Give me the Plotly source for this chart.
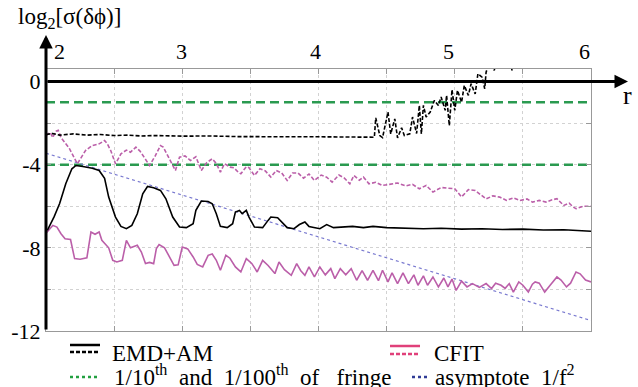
import plotly.graph_objects as go

# ---------------- data ----------------
emd_solid_x = [2.01, 2.06, 2.10, 2.145, 2.19, 2.22, 2.27, 2.34, 2.39, 2.43, 2.46, 2.51, 2.55, 2.59, 2.63, 2.67,
               2.71, 2.745, 2.79, 2.84, 2.88, 2.93, 2.98, 3.03, 3.08, 3.10, 3.14, 3.19, 3.22, 3.25, 3.28, 3.33,
               3.37, 3.39, 3.42, 3.44, 3.47, 3.49, 3.53, 3.59, 3.63, 3.65, 3.70, 3.74, 3.77, 3.82, 3.86, 3.90,
               3.93, 4.01, 4.06, 4.11, 4.18, 4.25, 4.33, 4.40, 4.50, 4.62, 4.77, 4.90, 5.05, 5.20, 5.35, 5.50,
               5.65, 5.80, 5.90, 6.00]
emd_solid_y = [-7.16, -6.5, -5.87, -4.92, -4.2, -4.04, -4.09, -4.17, -4.28, -4.66, -5.56, -6.52, -6.97, -7.08, -6.92, -6.36,
               -5.4, -5.05, -5.11, -5.24, -5.64, -6.52, -7.0, -7.03, -6.84, -6.2, -5.75, -5.77, -5.88, -6.36, -6.97, -7.03,
               -6.84, -6.28, -6.2, -6.36, -6.2, -6.52, -7.0, -7.03, -6.68, -6.52, -6.55, -6.84, -7.03, -7.08, -6.88, -6.76,
               -6.97, -7.08, -6.88, -7.03, -7.0, -6.97, -7.03, -6.97, -7.03, -7.05, -7.08, -7.06, -7.1, -7.08, -7.12, -7.1,
               -7.14, -7.13, -7.18, -7.2]

emd_dash_x = [2.0, 2.05, 2.1, 2.2, 2.3, 2.4, 2.5, 2.6, 2.7, 2.8, 3.0, 3.2, 3.4, 3.6, 3.8, 4.0, 4.2, 4.41,
              4.42, 4.45, 4.47, 4.51, 4.53, 4.56, 4.58, 4.61, 4.63, 4.67, 4.69, 4.72, 4.74, 4.755, 4.77, 4.79,
              4.82, 4.85, 4.88, 4.90, 4.93, 4.94, 4.96, 4.98, 5.0, 5.02, 5.05, 5.07, 5.10, 5.12, 5.15, 5.17,
              5.20, 5.22, 5.23, 5.26, 5.29, 5.31, 5.35, 5.40, 5.42, 5.45, 5.50, 5.60, 5.70, 5.80, 6.0]
emd_dash_y = [-2.55, -2.5, -2.58, -2.52, -2.58, -2.55, -2.6, -2.58, -2.62, -2.6, -2.63, -2.62, -2.65, -2.64, -2.66, -2.66, -2.68, -2.68,
              -1.75, -2.6, -2.7, -1.47, -2.52, -1.8, -2.71, -2.23, -2.6, -2.52, -1.71, -2.5, -1.15, -2.52, -1.15, -1.71,
              -1.47, -0.91, -1.15, -0.75, -1.39, -0.67, -2.12, -0.4, -1.39, -0.43, -1.0, -0.19, -0.67, -0.11, -0.6, 0.37,
              0.21, -0.35, 0.45, 1.0, 0.53, 1.2, 0.9, 1.5, 0.53, 1.4, 1.7, 1.9, 2.1, 2.3, 2.6]

cfit_dash_x = [2.0, 2.03, 2.05, 2.07, 2.09, 2.11, 2.17, 2.23, 2.29, 2.34, 2.39, 2.43, 2.45, 2.475, 2.51, 2.55,
               2.59, 2.62, 2.66, 2.69, 2.72, 2.76, 2.80, 2.84, 2.86, 2.90, 2.95, 2.98, 3.02, 3.06, 3.10, 3.14,
               3.18, 3.22, 3.25, 3.28, 3.31, 3.35, 3.38, 3.41, 3.43, 3.47, 3.49, 3.53, 3.57, 3.61, 3.65, 3.69,
               3.73, 3.77, 3.81, 3.85, 3.89, 3.93, 3.97, 4.02, 4.06, 4.10, 4.15, 4.19, 4.23, 4.26, 4.30, 4.33,
               4.37, 4.42, 4.47, 4.52, 4.58, 4.64, 4.69, 4.74, 4.79, 4.84, 4.90, 5.0, 5.05, 5.10, 5.15, 5.23,
               5.28, 5.33, 5.38, 5.43, 5.48, 5.53, 5.57, 5.62, 5.67, 5.71, 5.75, 5.80, 5.84, 5.87, 5.89, 5.94, 6.0]
cfit_dash_y = [-2.6, -2.45, -2.7, -2.4, -2.35, -2.7, -3.2, -3.96, -3.32, -3.08, -3.0, -2.84, -3.0, -3.32, -3.96, -3.48,
               -3.3, -3.4, -3.16, -3.35, -3.64, -4.04, -3.6, -3.08, -3.15, -3.64, -4.28, -3.64, -3.58, -3.8, -3.62, -4.28,
               -3.9, -3.72, -3.95, -4.36, -3.95, -4.12, -4.15, -4.36, -4.44, -4.1, -4.15, -4.52, -4.2, -4.3, -4.6, -4.28,
               -4.4, -4.76, -4.4, -4.4, -4.65, -4.45, -4.76, -4.5, -4.6, -4.84, -4.5, -4.65, -4.92, -4.52, -4.75, -4.6,
               -4.92, -4.85, -5.0, -4.95, -4.88, -5.02, -4.95, -5.16, -5.0, -5.32, -5.1, -5.16, -5.55, -5.2, -5.24, -5.65,
               -5.5, -5.56, -5.72, -5.6, -5.72, -5.65, -5.8, -5.72, -5.8, -5.7, -5.64, -5.96, -5.85, -6.04, -6.12, -6.0, -6.0]

cfit_solid_x = [2.0, 2.05, 2.08, 2.11, 2.14, 2.18, 2.21, 2.25, 2.30, 2.33, 2.36, 2.39, 2.41, 2.44, 2.46, 2.49,
                2.52, 2.56, 2.59, 2.62, 2.67, 2.70, 2.73, 2.76, 2.79, 2.81, 2.83, 2.87, 2.90, 2.94, 2.97, 3.0,
                3.04, 3.08, 3.11, 3.15, 3.19, 3.22, 3.25, 3.28, 3.32, 3.35, 3.39, 3.43, 3.47, 3.51, 3.55, 3.59,
                3.63, 3.68, 3.71, 3.75, 3.80, 3.84, 3.87, 3.90, 3.93, 3.97, 4.01, 4.05, 4.09, 4.12, 4.16, 4.20,
                4.24, 4.28, 4.32, 4.36, 4.40, 4.44, 4.47, 4.51, 4.54, 4.58, 4.62, 4.66, 4.70, 4.73, 4.77, 4.80,
                4.84, 4.88, 4.92, 4.95, 4.98, 5.01, 5.05, 5.09, 5.13, 5.18, 5.23, 5.27, 5.30, 5.34, 5.37, 5.40,
                5.43, 5.47, 5.50, 5.54, 5.57, 5.59, 5.62, 5.66, 5.70, 5.75, 5.78, 5.82, 5.85, 5.89, 5.92, 5.96, 6.0]
cfit_solid_y = [-7.3, -6.92, -7.0, -7.32, -7.56, -7.6, -8.52, -8.55, -8.48, -7.24, -7.35, -7.24, -7.64, -7.85, -8.0, -8.6,
                -8.68, -8.6, -7.64, -8.0, -7.88, -8.2, -8.76, -8.7, -8.76, -8.04, -7.84, -8.0, -8.36, -8.84, -8.82, -7.96,
                -8.05, -8.44, -8.8, -8.92, -8.36, -8.3, -8.6, -9.08, -8.36, -8.5, -8.92, -9.16, -8.52, -8.75, -9.16, -8.6,
                -8.85, -9.24, -8.68, -9.05, -9.32, -8.76, -9.1, -9.32, -8.92, -9.4, -8.92, -9.3, -9.0, -9.48, -9.0, -9.3,
                -9.0, -9.56, -9.1, -9.56, -9.08, -9.58, -9.08, -9.64, -9.2, -9.72, -9.2, -9.72, -9.3, -9.8, -9.35, -9.8,
                -9.4, -9.88, -9.45, -9.88, -9.5, -10.05, -9.6, -9.88, -9.72, -9.9, -9.72, -9.96, -9.7, -9.8, -9.95, -9.72,
                -10.13, -9.64, -9.8, -10.13, -9.75, -9.64, -9.7, -10.13, -9.8, -9.4, -9.55, -9.88, -9.7, -9.16, -9.25, -9.55, -9.64]

asym_x = [2.0, 6.0]
asym_y = [-3.45, -11.5]

fringe_levels = [-1.0, -4.0]

x_ticks = [2, 3, 4, 5, 6]
y_tick_vals = [-12, -10, -8, -6, -4, -2, 0]
y_tick_text = ["-12", "", "-8", "", "-4", "", "0"]

# ---------------- styling ----------------
FONT = "Liberation Serif"
PINK = "#bb5fa9"
GREEN = "#2a9a50"
BLUE = "#7a7ad0"
GRID = "#d2d2d2"

fig = go.Figure()

for lvl in fringe_levels:
    fig.add_trace(go.Scatter(x=[2, 6], y=[lvl, lvl], mode="lines",
                             line=dict(color=GREEN, width=2.5, dash="9px,5px"),
                             showlegend=False, hoverinfo="skip"))

fig.add_trace(go.Scatter(x=asym_x, y=asym_y, mode="lines",
                         line=dict(color=BLUE, width=1.2, dash="dot"), showlegend=False))
fig.add_trace(go.Scatter(x=cfit_dash_x, y=cfit_dash_y, mode="lines",
                         line=dict(color=PINK, width=1.6, dash="4px,2px"), showlegend=False))
fig.add_trace(go.Scatter(x=cfit_solid_x, y=cfit_solid_y, mode="lines",
                         line=dict(color=PINK, width=1.6), showlegend=False))
fig.add_trace(go.Scatter(x=emd_dash_x, y=emd_dash_y, mode="lines",
                         line=dict(color="black", width=1.6, dash="4px,2px"), showlegend=False))
fig.add_trace(go.Scatter(x=emd_solid_x, y=emd_solid_y, mode="lines",
                         line=dict(color="black", width=1.6), showlegend=False))

fig.update_layout(
    width=638, height=387,
    margin=dict(l=46, r=47, t=69, b=56),
    paper_bgcolor="white", plot_bgcolor="white",
    font=dict(family=FONT, size=22, color="black"),
    showlegend=False,
    xaxis=dict(range=[2, 6], tickvals=[2, 2.5, 3, 3.5, 4, 4.5, 5, 5.5, 6],
               showticklabels=False, showgrid=True, gridcolor=GRID, griddash="dot", gridwidth=1,
               zeroline=False, showline=True, linecolor="#999999", linewidth=1, mirror="ticks",
               ticks="inside", ticklen=5, tickcolor="#999999"),
    yaxis=dict(range=[-12, 0.6], tickvals=y_tick_vals, ticktext=y_tick_text,
               showgrid=True, gridcolor=GRID, griddash="dot", gridwidth=1,
               zeroline=False, showline=True, linecolor="#999999", linewidth=1, mirror="ticks",
               ticks="inside", ticklen=5, tickcolor="#999999",
               tickfont=dict(family=FONT, size=22)),
)


def px(xp):
    return (xp - 46) / 545.0


def py(yp):
    return (331 - yp) / 262.0


ann = []
# x tick labels on top
for t, shift in zip(x_ticks, [13, -1, -3, -6, -7]):
    ann.append(dict(x=t, y=py(52), xref="x", yref="paper", yanchor="middle", text=str(t),
                    showarrow=False, xshift=shift, font=dict(family=FONT, size=22)))

# axis arrows
ann.append(dict(x=px(628), y=0, xref="paper", yref="y", ax=-(628 - 46), ay=0,
                axref="pixel", ayref="pixel", showarrow=True, arrowhead=2, arrowsize=0.9,
                arrowwidth=3, arrowcolor="black", text=""))
ann.append(dict(x=0, y=py(35), xref="paper", yref="paper", ax=0, ay=296,
                showarrow=True, arrowhead=2, arrowsize=0.9, arrowwidth=3, arrowcolor="black", text=""))
# axis titles
ann.append(dict(x=px(16), y=py(18), xref="paper", yref="paper",
                xanchor="left", yanchor="middle", showarrow=False,
                text="log<sub>2</sub>[σ(δϕ)]", font=dict(family=FONT, size=23)))
ann.append(dict(x=px(627), y=py(95), xref="paper", yref="paper",
                xanchor="center", yanchor="middle", showarrow=False, text="r",
                font=dict(family=FONT, size=26)))

# legend text
LEG = 23
ann.append(dict(x=px(110), y=py(353), xref="paper", yref="paper", xanchor="left", yanchor="middle",
                showarrow=False, text="EMD+AM", font=dict(family=FONT, size=LEG)))
ann.append(dict(x=px(432), y=py(353), xref="paper", yref="paper", xanchor="left", yanchor="middle",
                showarrow=False, text="CFIT", font=dict(family=FONT, size=LEG)))
ann.append(dict(x=px(112), y=py(375), xref="paper", yref="paper", xanchor="left", yanchor="middle",
                showarrow=False,
                text="1/10<sup>th</sup>&nbsp; and&nbsp; 1/100<sup>th</sup>&nbsp; of&nbsp;&nbsp; fringe",
                font=dict(family=FONT, size=LEG)))
ann.append(dict(x=px(433), y=py(375), xref="paper", yref="paper", xanchor="left", yanchor="middle",
                showarrow=False, text="asymptote&nbsp; 1/f<sup>2</sup>", font=dict(family=FONT, size=LEG)))
fig.update_layout(annotations=ann)

# legend sample lines
shapes = [
    dict(type="line", xref="paper", yref="paper", x0=px(70), x1=px(100), y0=py(345), y1=py(345),
         line=dict(color="black", width=2.5)),
    dict(type="line", xref="paper", yref="paper", x0=px(70), x1=px(100), y0=py(352), y1=py(352),
         line=dict(color="black", width=2.5, dash="4px,2px")),
    dict(type="line", xref="paper", yref="paper", x0=px(390), x1=px(420), y0=py(346), y1=py(346),
         line=dict(color="#e0407a", width=2.5)),
    dict(type="line", xref="paper", yref="paper", x0=px(390), x1=px(420), y0=py(354), y1=py(354),
         line=dict(color="#e0407a", width=2.5, dash="4px,2px")),
    dict(type="line", xref="paper", yref="paper", x0=px(70), x1=px(100), y0=py(377), y1=py(377),
         line=dict(color="#22a040", width=2.5, dash="dot")),
    dict(type="line", xref="paper", yref="paper", x0=px(412), x1=px(430), y0=py(377), y1=py(377),
         line=dict(color="#303c96", width=2.5, dash="dot")),
]
fig.update_layout(shapes=shapes)

fig.write_html("out.html", config={"displayModeBar": False},
               post_script="document.body.style.margin='0px';document.body.style.overflow='hidden';")
